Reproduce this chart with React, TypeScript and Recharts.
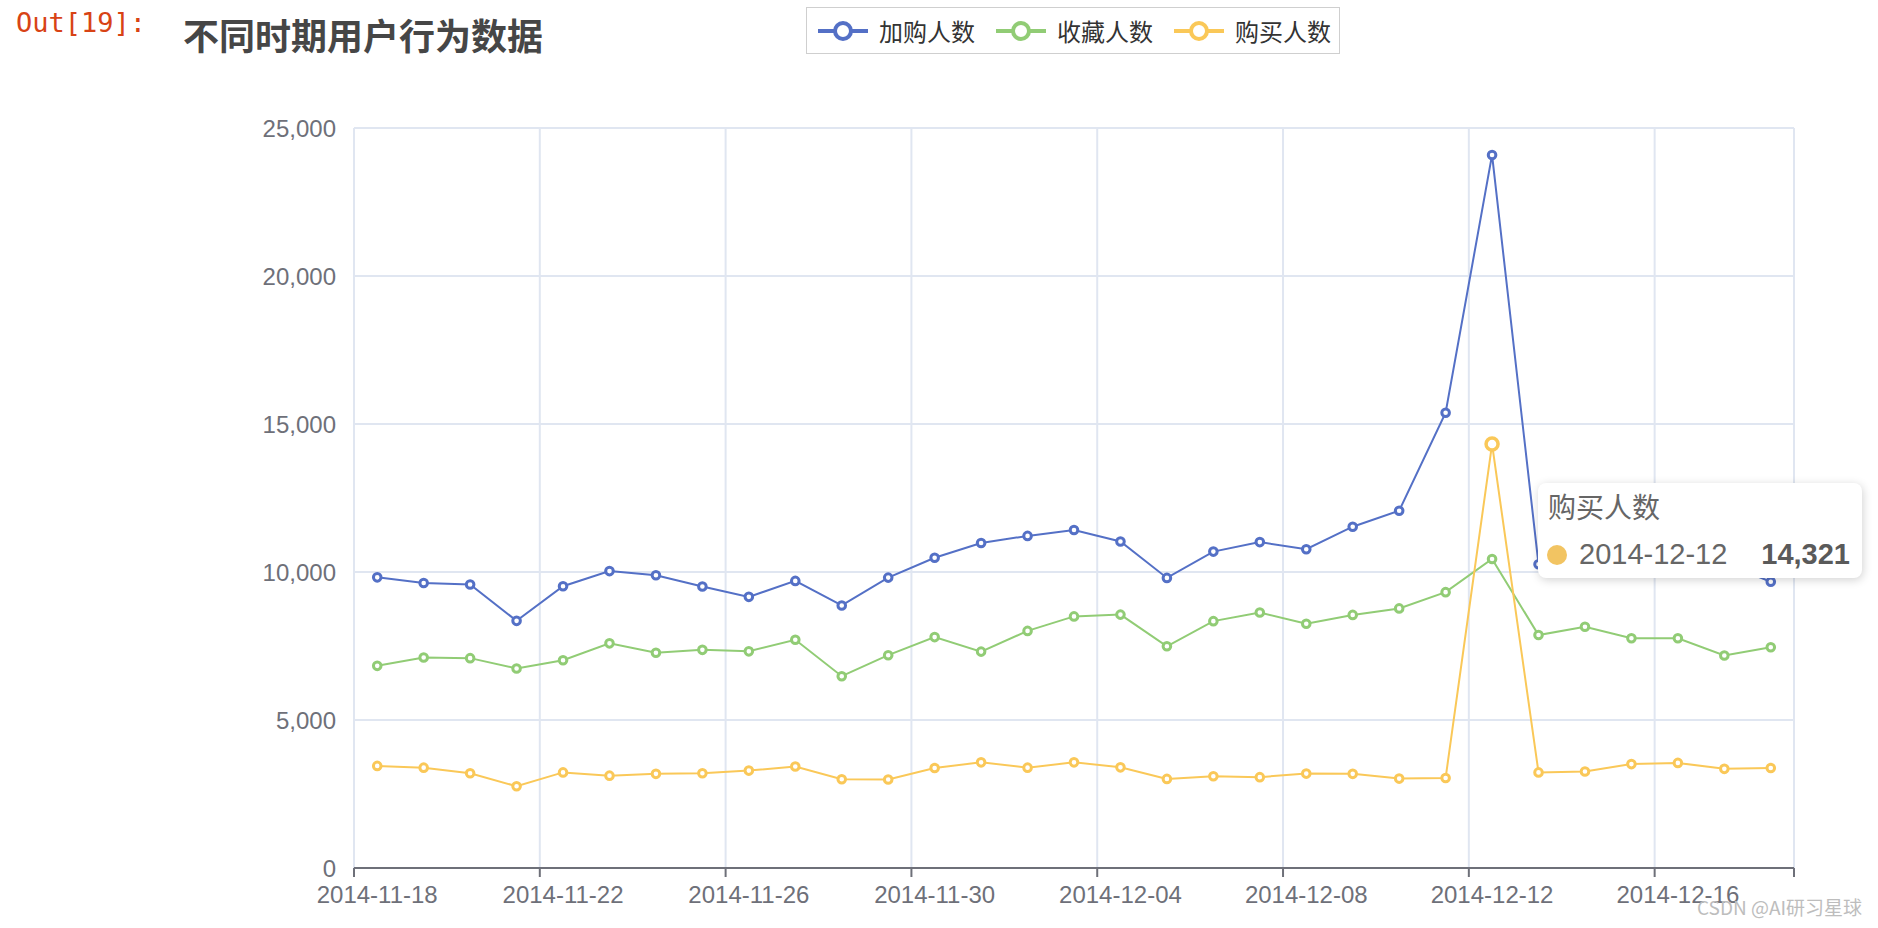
import React from "react"
import {
  LineChart,
  Line,
  XAxis,
  YAxis,
  CartesianGrid,
  Tooltip,
} from "recharts"

const dates = [
  "2014-11-18", "2014-11-19", "2014-11-20", "2014-11-21", "2014-11-22", "2014-11-23",
  "2014-11-24", "2014-11-25", "2014-11-26", "2014-11-27", "2014-11-28", "2014-11-29",
  "2014-11-30", "2014-12-01", "2014-12-02", "2014-12-03", "2014-12-04", "2014-12-05",
  "2014-12-06", "2014-12-07", "2014-12-08", "2014-12-09", "2014-12-10", "2014-12-11",
  "2014-12-12", "2014-12-13", "2014-12-14", "2014-12-15", "2014-12-16", "2014-12-17",
  "2014-12-18",
]

// 加购人数
const cartUsers = [
  9820, 9630, 9580, 8350, 9520, 10030, 9890, 9510, 9160, 9700, 8870, 9810, 10480, 10980,
  11220, 11420, 11030, 9800, 10690, 11010, 10770, 11530, 12070, 15380, 24090, 10260, 10500,
  10350, 10450, 10300, 9670,
]
// 收藏人数
const favUsers = [
  6830, 7110, 7090, 6740, 7020, 7590, 7270, 7370, 7320, 7710, 6480, 7190, 7800, 7310, 8010,
  8500, 8560, 7490, 8340, 8630, 8250, 8550, 8770, 9320, 10440, 7870, 8150, 7760, 7760, 7180,
  7460,
]
// 购买人数
const buyUsers = [
  3450, 3390, 3200, 2760, 3230, 3120, 3180, 3200, 3290, 3430, 3000, 2990, 3380, 3570, 3390,
  3570, 3400, 3010, 3100, 3070, 3190, 3180, 3020, 3040, 14321, 3230, 3260, 3510, 3550, 3350,
  3380,
]

const yTicks = [0, 5000, 10000, 15000, 20000, 25000]
// category boundaries that get a split line / tick mark
const boundaryTicks = [0, 4, 8, 12, 16, 20, 24, 28, 31]

const series = [
  { key: "cart", name: "加购人数", color: "#5470c6" },
  { key: "fav", name: "收藏人数", color: "#91cc75" },
  { key: "buy", name: "购买人数", color: "#fac858" },
]

const hoverIndex = 24

const data = dates.map((date, i) => ({
  date,
  cart: cartUsers[i],
  fav: favUsers[i],
  buy: buyUsers[i],
}))

const W = 1878
const H = 928
const PLOT_W = 1440
const AXIS_COLOR = "#6E7079"
const GRID_COLOR = "#E0E6F1"
const CJK = "'Noto Sans CJK SC', 'Noto Sans', sans-serif"
const LATIN = "'Liberation Sans', Arial, sans-serif"

function DateTick(props: any) {
  const { x, y, payload } = props
  const i = payload.index
  const last = i === dates.length - 1
  if (i % 4 !== 0 && !last) return <g />
  const half = PLOT_W / dates.length / 2
  const bx = last ? x + half : x - half
  return (
    <g>
      <line x1={bx} x2={bx} y1={y - 18} y2={y - 9} stroke={AXIS_COLOR} strokeWidth={2} />
      {i % 4 === 0 && (
        <text x={x} y={y} dy="0.71em" textAnchor="middle" fill={AXIS_COLOR} fontSize={24} fontFamily={LATIN}>
          {payload.value}
        </text>
      )}
    </g>
  )
}

function BuyTooltip({ payload, label }: any) {
  const item = (payload || []).find((p: any) => p.dataKey === "buy")
  if (!item) return null
  return (
    <div
      style={{
        position: "relative",
        width: 324,
        height: 95,
        boxSizing: "border-box",
        background: "#fff",
        borderRadius: 8,
        boxShadow: "rgba(0,0,0,0.18) 1px 2px 10px",
        fontFamily: CJK,
        color: "#666",
      }}
    >
      <div style={{ position: "absolute", left: 10, top: 9, fontSize: 28, lineHeight: "28px" }}>
        {item.name}
      </div>
      <div
        style={{
          position: "absolute",
          left: 9,
          top: 62,
          width: 20,
          height: 20,
          borderRadius: 10,
          background: "#f2c462",
        }}
      />
      <div style={{ position: "absolute", left: 41, top: 57, fontSize: 29, lineHeight: "29px", fontFamily: LATIN }}>
        {label}
      </div>
      <div
        style={{
          position: "absolute",
          right: 12,
          top: 57,
          fontSize: 29,
          lineHeight: "29px",
          fontWeight: 900,
          fontFamily: LATIN,
          color: "#5a5a5a",
        }}
      >
        {Number(item.value).toLocaleString("en-US")}
      </div>
    </div>
  )
}

function LegendBox() {
  return (
    <div
      style={{
        position: "absolute",
        left: 806,
        top: 7,
        width: 534,
        height: 47,
        boxSizing: "border-box",
        border: "1.5px solid #cfcfcf",
        display: "flex",
        alignItems: "center",
        paddingLeft: 11,
        gap: 21,
        fontFamily: CJK,
        fontSize: 24,
        color: "#333",
      }}
    >
      {series.map((s) => (
        <div key={s.key} style={{ display: "flex", alignItems: "center", gap: 11 }}>
          <svg width={50} height={28}>
            <line x1={0} x2={50} y1={14} y2={14} stroke={s.color} strokeWidth={4} />
            <circle cx={25} cy={14} r={8} fill="#fff" stroke={s.color} strokeWidth={4} />
          </svg>
          <span style={{ lineHeight: "28px" }}>{s.name}</span>
        </div>
      ))}
    </div>
  )
}

export default function App() {
  return (
    <div style={{ position: "absolute", left: 0, top: 0, width: W, height: H, background: "#fff" }}>
      <div
        style={{
          position: "absolute",
          left: 16,
          top: 9,
          fontFamily: "'DejaVu Sans Mono', monospace",
          fontSize: 27,
          lineHeight: "28px",
          color: "#D84315",
        }}
      >
        Out[19]:
      </div>
      <div
        style={{
          position: "absolute",
          left: 183,
          top: 16,
          fontFamily: CJK,
          fontWeight: 700,
          fontSize: 36,
          lineHeight: "36px",
          color: "#464646",
        }}
      >
        不同时期用户行为数据
      </div>
      <LegendBox />
      <div style={{ position: "absolute", left: 0, top: 0 }}>
        <LineChart
          width={W}
          height={H}
          data={data}
          margin={{ top: 128, right: 84, left: 274, bottom: 10 }}
          style={{ fontFamily: LATIN }}
        >
          <CartesianGrid
            stroke={GRID_COLOR}
            strokeWidth={2}
            verticalCoordinatesGenerator={({ offset }: any) =>
              boundaryTicks.map((k) => offset.left + (k * offset.width) / dates.length)
            }
          />
          <XAxis
            dataKey="date"
            scale="band"
            interval={0}
            height={50}
            tickSize={0}
            tickMargin={18}
            tickLine={false}
            axisLine={{ stroke: AXIS_COLOR, strokeWidth: 2 }}
            tick={<DateTick />}
          />
          <YAxis
            domain={[0, 25000]}
            ticks={yTicks}
            width={80}
            axisLine={false}
            tickLine={false}
            tickSize={0}
            tickMargin={18}
            tick={{ fill: AXIS_COLOR, fontSize: 24 }}
            tickFormatter={(v: number) => v.toLocaleString("en-US")}
          />
          <Tooltip
            active
            defaultIndex={hoverIndex}
            cursor={false}
            isAnimationActive={false}
            position={{ x: 1538, y: 483 }}
            wrapperStyle={{ outline: "none", zIndex: 10 }}
            content={<BuyTooltip />}
          />
          {series.map((s) => (
            <Line
              key={s.key}
              type="linear"
              dataKey={s.key}
              name={s.name}
              stroke={s.color}
              strokeWidth={2}
              dot={{ r: 3.8, fill: "#fff", stroke: s.color, strokeWidth: 3 }}
              activeDot={
                s.key === "buy" ? { r: 6, fill: "#fff", stroke: s.color, strokeWidth: 3.5 } : false
              }
              isAnimationActive={false}
            />
          ))}
        </LineChart>
      </div>
      <div
        style={{
          position: "absolute",
          left: 1697,
          top: 896,
          fontFamily: CJK,
          fontSize: 19,
          lineHeight: "22px",
          color: "#bdbdbd",
        }}
      >
        CSDN @AI研习星球
      </div>
    </div>
  )
}
